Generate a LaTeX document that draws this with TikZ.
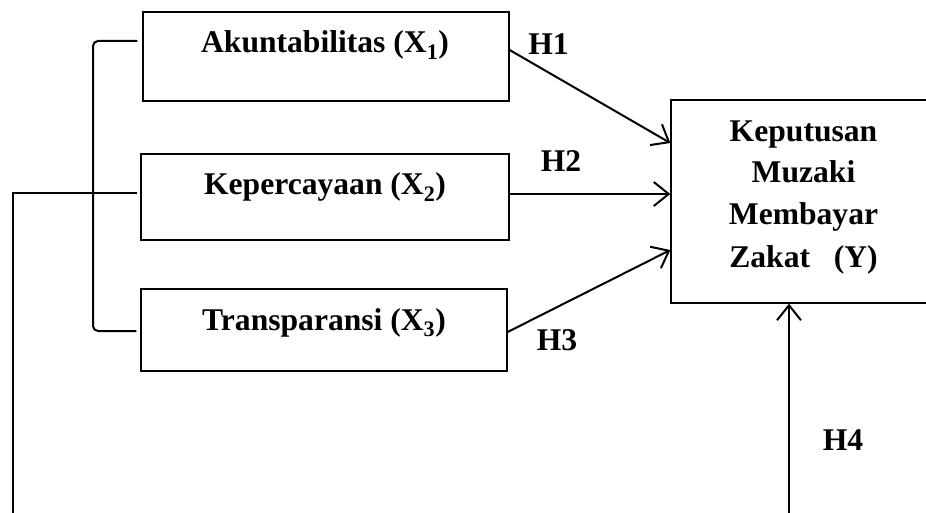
\documentclass[tikz,border=0pt]{standalone}
\usepackage{fontspec}
\setmainfont{Liberation Serif}
\usetikzlibrary{arrows.meta}
\begin{document}
\begin{tikzpicture}[x=1pt,y=-1pt,
  varbox/.style={draw=black,line width=1.3pt,minimum width=#1,inner sep=0pt},
  lbl/.style={font=\fontsize{31.6}{38}\selectfont\bfseries,anchor=base,inner sep=0pt},
  conn/.style={line width=2pt},
  arr/.style={line width=2pt,-{Straight Barb[length=15pt,width=24pt,line width=2pt]}}]
\useasboundingbox (0,0) rectangle (926,513);
\clip (0,0) rectangle (926,513);
\fill[white] (0,0) rectangle (926,513);
% boxes
\node[varbox=366pt,minimum height=89pt] (x1) at (326,56.5) {};
\node[varbox=368pt,minimum height=86pt] (x2) at (325,197) {};
\node[varbox=366pt,minimum height=82pt] (x3) at (324,330) {};
\node[varbox=264pt,minimum height=203pt] (y) at (803,201.5) {};
% box texts
\node[lbl] (t1) at (325,53) {Akuntabilitas (X\textsubscript{1})};
\node[lbl] (t2) at (325,195) {Kepercayaan (X\textsubscript{2})};
\node[lbl] (t3) at (324,330) {Transparansi (X\textsubscript{3})};
\node[lbl] (ya) at (803.5,142) {Keputusan};
\node[lbl] (yb) at (803.5,183) {Muzaki};
\node[lbl] (yc) at (803.5,225) {Membayar};
\node[lbl] (yd) at (803.5,267) {Zakat\ \ \ (Y)};
% hypothesis labels
\node[lbl] (h1) at (548.5,55) {H1};
\node[lbl] (h2) at (561,172) {H2};
\node[lbl] (h3) at (557,350) {H3};
\node[lbl] (h4) at (843,450) {H4};
% arrows
\draw[arr] ([yshift=6.5pt]x1.east) -- ([yshift=58.5pt]y.west);
\draw[arr] ([yshift=3pt]x2.east) -- ([yshift=7.5pt]y.west);
\draw[arr] ([yshift=-2pt]x3.east) -- ([yshift=-48.5pt]y.west);
\coordinate (h4s) at (789,520);
\draw[arr] (h4s) -- (h4s |- y.south);
% bracket
\coordinate (b1) at ([xshift=-5pt,yshift=15.5pt]x1.west);
\coordinate (b3) at ([xshift=-4pt,yshift=-1pt]x3.west);
\draw[conn,rounded corners=5pt] (b1) -- (93,41) -- (93,331) -- (b3);
\coordinate (b2) at ([xshift=-3pt,yshift=4pt]x2.west);
\draw[conn] (b2) -- (13,193) -- (13,520);
\end{tikzpicture}
\end{document}
